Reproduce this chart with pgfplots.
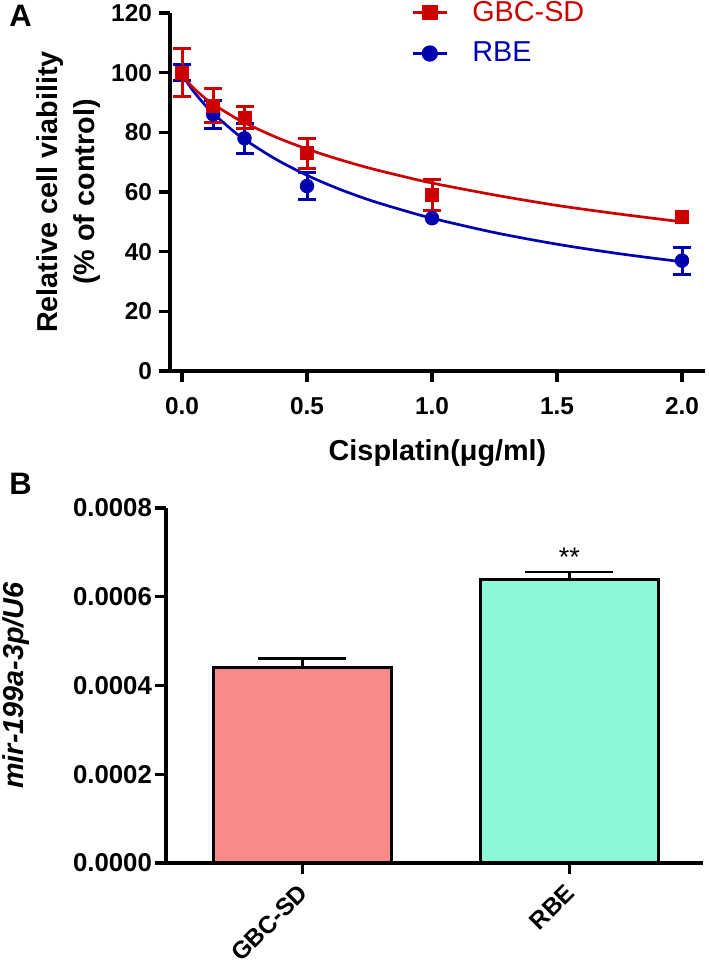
\documentclass[border=0pt]{standalone}
\usepackage{fontspec}
\setmainfont{Liberation Sans}
\usepackage{pgfplots}
\pgfplotsset{compat=1.18}
\definecolor{gbc}{HTML}{CC0000}
\definecolor{rbe}{HTML}{0000B0}
\definecolor{barpink}{HTML}{FA8A8A}
\definecolor{barmint}{HTML}{8CF8D8}
\pgfplotsset{
  prism/.style={
    scale only axis, clip=false,
    axis x line=bottom, axis y line=left,
    axis line style={-, line width=1.6pt},
    tick align=outside, major tick length=5.5pt,
    tick style={black, line width=1.6pt},
    tick label style={font=\fontsize{12.2}{14}\selectfont\bfseries},
    /pgf/number format/assume math mode=true,
    label style={font=\fontsize{14.4}{18.5}\selectfont\bfseries},
  },
}
\tikzset{xlab/.style={anchor=base, inner sep=0pt, yshift=-22pt, font=\fontsize{12.2}{14}\selectfont\bfseries}}

\begin{document}
\begin{tikzpicture}
\useasboundingbox (0pt,0pt) rectangle (354pt,486pt);

% panel A: viability vs cisplatin
\begin{axis}[prism, at={(85pt,300.5pt)}, anchor=south west,
  width=267.5pt, height=179pt,
  xmin=-0.048, xmax=2.092, ymin=0, ymax=120,
  xtick={0,0.5,1,1.5,2}, xticklabels={}, ytick={0,20,40,60,80,100,120},
  xlabel={Cisplatin(μg/ml)}, ylabel={Relative cell viability\\(\% of control)},
  xlabel style={at={(axis description cs:0.5,-0.2514)}, anchor=base},
  ylabel style={at={(axis description cs:-0.19,0.5)}, anchor=center, align=center},
  legend style={draw=none, fill=none, at={(axis cs:0.892,113.3)}, anchor=west,
    font=\fontsize{14.4}{16}\selectfont, row sep=5pt,
    /tikz/every odd column/.append style={column sep=10pt}},
  legend cell align=left]
  \addlegendimage{gbc, line width=1.35pt, mark=square*, mark size=3.25pt}
  \addlegendentry{\textcolor{gbc}{GBC-SD}}
  \addlegendimage{rbe, line width=1.35pt, mark=*, mark size=3.4pt}
  \addlegendentry{\textcolor{rbe}{RBE}}

  \addplot[rbe, line width=1.35pt, smooth, forget plot] coordinates {
    (0,100) (0.01,98.2) (0.02,96.8) (0.05,93.3) (0.1,88.4) (0.125,86.3) (0.2,80.8)
    (0.25,77.6) (0.375,71.0) (0.5,65.6) (0.625,61.1) (0.75,57.3) (0.875,54.1)
    (1.0,51.2) (1.25,46.4) (1.5,42.5) (1.75,39.3) (2.0,36.6)};
  \addplot[rbe, only marks, mark=*, mark size=3.4pt, forget plot,
    error bars/.cd, y dir=both, y explicit,
    error bar style={line width=1.5pt},
    error mark options={rotate=90, line width=1.5pt, mark size=4.5pt}] coordinates {
    (0,100) +- (0,2.6)
    (0.125,86) +- (0,4.7)
    (0.25,78) +- (0,5)
    (0.5,62) +- (0,4.5)
    (2.0,37) +- (0,4.5)};
  % error smaller than the symbol: no bar shown
  \addplot[rbe, only marks, mark=*, mark size=3.4pt, forget plot] coordinates {(1.0,51.2)};

  \addplot[gbc, line width=1.35pt, smooth, forget plot] coordinates {
    (0,100) (0.01,98.3) (0.02,97.2) (0.05,94.5) (0.1,90.9) (0.125,89.4) (0.2,85.5)
    (0.25,83.2) (0.375,78.4) (0.5,74.4) (0.625,71.0) (0.75,68.0) (0.875,65.4)
    (1.0,63.0) (1.25,59.0) (1.5,55.5) (1.75,52.6) (2.0,50.0)};
  \addplot[gbc, only marks, mark=square*, mark size=3.25pt, forget plot,
    error bars/.cd, y dir=both, y explicit,
    error bar style={line width=1.5pt},
    error mark options={rotate=90, line width=1.5pt, mark size=4.5pt}] coordinates {
    (0,100) +- (0,8)
    (0.125,89) +- (0,5.8)
    (0.25,85) +- (0,3.8)
    (0.5,73) +- (0,5)
    (1.0,59) +- (0,5.3)};
  \addplot[gbc, only marks, mark=square*, mark size=3.25pt, forget plot] coordinates {(2.0,51.7)};

  % x tick labels, set below the outward ticks
  \node[xlab] at (axis cs:0,0) {0.0};
  \node[xlab] at (axis cs:0.5,0) {0.5};
  \node[xlab] at (axis cs:1,0) {1.0};
  \node[xlab] at (axis cs:1.5,0) {1.5};
  \node[xlab] at (axis cs:2,0) {2.0};
\end{axis}

% panel B: expression bars
\begin{axis}[prism, at={(83pt,54.5pt)}, anchor=south west,
  width=268.5pt, height=177.5pt,
  xmin=-0.51, xmax=1.5, ymin=0, ymax=0.0008,
  yticklabel style={font=\fontsize{12.9}{15}\selectfont\bfseries, xshift=2pt,
    /pgf/number format/.cd, fixed, fixed zerofill, precision=4},
  xtick={0,1}, xticklabels={GBC-SD,RBE},
  ytick={0,0.0002,0.0004,0.0006,0.0008}, scaled y ticks=false,
  xticklabel style={xshift=3pt, yshift=-5pt, rotate=45, anchor=east},
  ylabel={\itshape mir-199a-3p/U6},
  ylabel style={at={(axis description cs:-0.279,0.5)}, anchor=center}]
  \addplot[ybar, bar width=89pt, bar shift=0pt, fill=barpink, draw=black, line width=1.5pt,
    error bars/.cd, y dir=plus, y explicit,
    error bar style={line width=1.3pt, black},
    error mark options={rotate=90, line width=1.3pt, mark size=22pt, black}]
    coordinates {(0,0.000441) +- (0,0.00002)};
  \addplot[ybar, bar width=89pt, bar shift=0pt, fill=barmint, draw=black, line width=1.5pt,
    error bars/.cd, y dir=plus, y explicit,
    error bar style={line width=1.3pt, black},
    error mark options={rotate=90, line width=1.3pt, mark size=22pt, black}]
    coordinates {(1,0.000638) +- (0,0.000018)};
  \node[font=\fontsize{13.5}{15}\selectfont, anchor=base] at (axis cs:1,0.000668) {**};
\end{axis}

\node[font=\fontsize{15.5}{18}\selectfont\bfseries, anchor=base west, inner sep=0pt] at (4.5pt,472.5pt) {A};
\node[font=\fontsize{15.5}{18}\selectfont\bfseries, anchor=base west, inner sep=0pt] at (4.5pt,238.5pt) {B};
\end{tikzpicture}
\end{document}
